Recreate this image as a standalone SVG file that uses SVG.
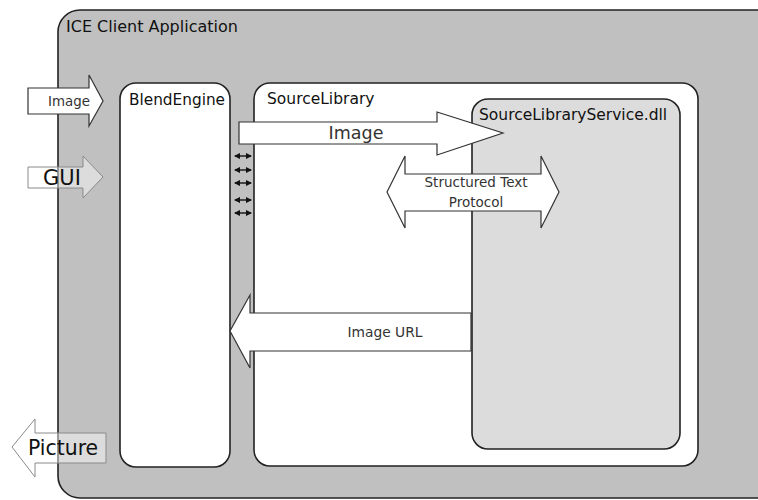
<svg xmlns="http://www.w3.org/2000/svg" width="758" height="500" viewBox="0 0 758 500">
<defs>
<style>
.box{stroke:#222;stroke-width:1.6}
.t{font-family:"DejaVu Sans",Verdana,sans-serif;fill:#111}
.lbl{font-family:"DejaVu Sans",Verdana,sans-serif;fill:#333}
.arr{fill:#fff;stroke:#333;stroke-width:1.2;stroke-linejoin:miter}
.ghost{fill:#fff;fill-opacity:0.45;stroke:#8a8a8a;stroke-width:1}
.sm{stroke:#111;stroke-width:1.4;fill:none}
</style>
<marker id="ah" viewBox="0 0 6 6" refX="5" refY="3" markerWidth="4.5" markerHeight="4.5" orient="auto-start-reverse">
<path d="M0,0 L6,3 L0,6 z" fill="#111"/>
</marker>
</defs>
<rect width="758" height="500" fill="#fff"/>

<g id="ice-client">
<rect class="box" x="58" y="10" width="740" height="488" rx="22" fill="#c0c0c0"/>
<text class="t" x="66" y="32" font-size="16">ICE Client Application</text>
</g>

<g id="blendengine">
<rect class="box" x="120" y="83" width="110" height="384" rx="16" fill="#fff"/>
<text class="t" x="129" y="105" font-size="15.3">BlendEngine</text>
</g>

<g id="sourcelibrary">
<rect class="box" x="254" y="83" width="444" height="383" rx="16" fill="#fff"/>
<text class="t" x="267" y="104" font-size="15.5">SourceLibrary</text>
</g>

<g id="sourcelibraryservice">
<rect class="box" x="472" y="99" width="208" height="350" rx="16" fill="#dcdcdc"/>
<text class="t" x="479" y="120" font-size="15.5">SourceLibraryService.dll</text>
</g>

<g id="connectors">
<g id="in-image">
<path class="arr" d="M28,88 H89 V75 L103,101 L89,126 V114 H28 Z"/>
<text class="lbl" x="69" y="106" font-size="13.4" text-anchor="middle">Image</text>
</g>
<g id="in-gui">
<path class="ghost" d="M28,167 H83 V156 L103,177 L83,198 V188 H28 Z"/>
<text class="t" x="43" y="185" font-size="21">GUI</text>
</g>
<g id="out-picture">
<path class="ghost" d="M106,433 H35 V419 L12,447 L35,477 V463 H106 Z"/>
<text class="t" x="28" y="455" font-size="20.4">Picture</text>
</g>
<g id="image-arrow">
<path class="arr" d="M239,122 H437 V112 L503,133 L437,155 V144 H239 Z"/>
<text class="lbl" x="356" y="139" font-size="17.5" text-anchor="middle">Image</text>
</g>
<g id="protocol-arrow">
<path class="arr" d="M387,192 L405,156 V174 H541 V156 L559,192 L541,228 V211 H405 V228 Z"/>
<text class="lbl" x="476" y="187" font-size="13.5" text-anchor="middle">Structured Text</text>
<text class="lbl" x="476" y="207" font-size="13.5" text-anchor="middle">Protocol</text>
</g>
<g id="imageurl-arrow">
<path class="arr" d="M471,313 H250 V295 L230,331 L250,368 V351 H471 Z"/>
<text class="lbl" x="385" y="337" font-size="13.8" text-anchor="middle">Image URL</text>
</g>
<g id="small-links">
<line class="sm" x1="235" y1="156" x2="251" y2="156" marker-start="url(#ah)" marker-end="url(#ah)"/>
<line class="sm" x1="235" y1="170" x2="251" y2="170" marker-start="url(#ah)" marker-end="url(#ah)"/>
<line class="sm" x1="235" y1="183" x2="251" y2="183" marker-start="url(#ah)" marker-end="url(#ah)"/>
<line class="sm" x1="235" y1="200" x2="251" y2="200" marker-start="url(#ah)" marker-end="url(#ah)"/>
<line class="sm" x1="235" y1="213" x2="251" y2="213" marker-start="url(#ah)" marker-end="url(#ah)"/>
</g>
</g>
</svg>
